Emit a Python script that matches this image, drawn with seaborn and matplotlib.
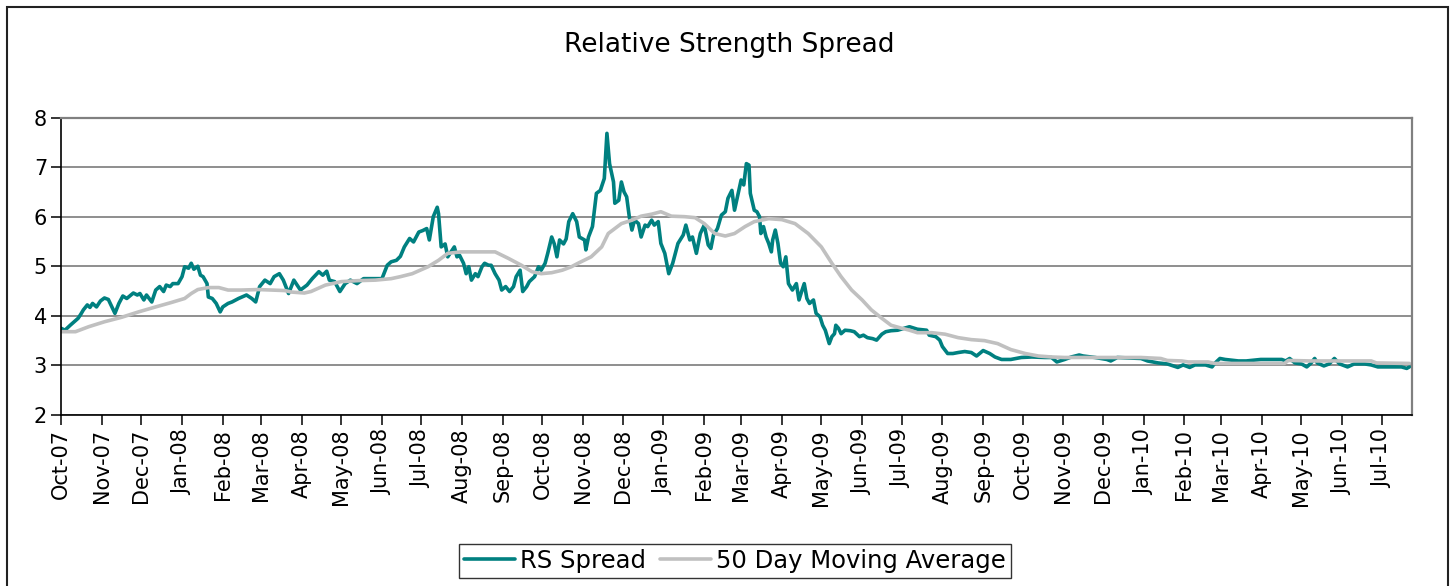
import pandas as pd
import matplotlib
matplotlib.use("Agg")
import matplotlib.pyplot as plt
import matplotlib.dates as mdates
from matplotlib.patches import Rectangle
import seaborn as sns

# 日付は 2007-10-01 からの経過日数で持つ
start = pd.Timestamp("2007-10-01")

rs_days = [0, 3, 7, 13, 15, 17, 20, 22, 24, 27, 30, 33, 36, 41, 44, 47, 50, 55, 58, 60,
           63, 65, 69, 72, 75, 78, 80, 83, 85, 89, 92, 94, 97, 99, 101, 104, 106, 108, 111, 112,
           115, 118, 121, 123, 127,
           130, 135, 141, 145, 148, 151, 155, 159, 162, 166, 169, 173, 177, 182, 187, 191, 196, 199, 202, 204,
           208, 212, 216, 220, 225, 230, 236, 244, 248, 251, 255, 258,
           261, 265, 268, 272, 275, 278, 280, 283, 286, 287, 289, 292, 294, 299, 301, 303, 306, 308, 310, 312,
           315, 317, 320, 322, 325, 327, 330, 333, 335, 338, 341, 344, 346, 349, 351, 354, 356, 360, 363, 365,
           368, 370, 373, 375, 377, 379, 382,
           384, 386, 389, 392, 394, 398, 399, 401, 404, 407, 410, 413, 415, 417, 420, 421, 424, 426, 428, 430,
           432, 434, 436, 439, 441, 444, 446, 449, 451, 454, 456, 459, 462, 465, 469, 473, 475, 478, 480, 483,
           486, 489, 492, 494, 496, 499, 502, 505, 507, 510, 512, 515, 517, 519, 521, 523, 524, 527, 529, 531,
           532, 534, 536, 538, 540, 541, 543, 545, 547, 549, 551, 553, 556, 559, 561, 563, 565, 567, 569, 572,
           574, 577, 579, 581, 584, 586, 588, 589, 591, 593, 596, 600, 603, 607, 610, 613, 617, 620, 624, 627,
           631, 636, 641, 645, 651, 658, 660, 665, 668, 670,
           674, 678, 682, 687, 692, 696, 701, 706, 710, 715, 722, 730, 738, 748, 753, 757, 763, 768, 774, 777,
           786, 795, 798, 803, 821, 826, 834, 841, 849, 853, 858, 862, 870, 875, 877, 881, 885, 895, 901, 912,
           928, 931, 934, 938, 943, 947, 950, 953, 955, 960, 964, 968, 972, 978, 983, 991, 996, 1001, 1011, 1019,
           1023, 1025]
rs_vals = [3.75, 3.71, 3.81, 3.95, 4.03, 4.12, 4.22, 4.17, 4.25, 4.18, 4.30, 4.36, 4.33, 4.05, 4.25, 4.40, 4.35, 4.46, 4.42, 4.45,
           4.32, 4.42, 4.28, 4.52, 4.59, 4.49, 4.62, 4.59, 4.65, 4.65, 4.79, 4.99, 4.96, 5.06, 4.94, 5.00, 4.82, 4.79, 4.65, 4.38,
           4.35, 4.25, 4.08, 4.18, 4.25,
           4.28, 4.35, 4.42, 4.35, 4.28, 4.59, 4.72, 4.65, 4.79, 4.85, 4.72, 4.45, 4.72, 4.52, 4.62, 4.75, 4.89, 4.82, 4.90, 4.72,
           4.69, 4.49, 4.65, 4.72, 4.65, 4.75, 4.75, 4.75, 5.02, 5.09, 5.12, 5.20,
           5.39, 5.56, 5.49, 5.69, 5.72, 5.76, 5.53, 6.00, 6.19, 6.06, 5.39, 5.45, 5.19, 5.39, 5.19, 5.22, 5.06, 4.85, 4.99, 4.72,
           4.85, 4.79, 4.99, 5.06, 5.02, 5.02, 4.85, 4.72, 4.52, 4.59, 4.49, 4.59, 4.79, 4.92, 4.49, 4.59, 4.69, 4.79, 4.99, 4.92,
           5.06, 5.26, 5.59, 5.45, 5.19, 5.53, 5.45,
           5.55, 5.90, 6.06, 5.90, 5.59, 5.53, 5.33, 5.59, 5.80, 6.47, 6.53, 6.77, 7.68, 7.07, 6.70, 6.27, 6.33, 6.70, 6.50, 6.40,
           6.00, 5.73, 5.93, 5.86, 5.59, 5.83, 5.80, 5.93, 5.83, 5.90, 5.46, 5.26, 4.85, 5.06, 5.46, 5.63, 5.83, 5.53, 5.59, 5.26,
           5.66, 5.83, 5.43, 5.36, 5.63, 5.76, 6.03, 6.10, 6.37, 6.53, 6.13, 6.50, 6.74, 6.64, 7.07, 7.04, 6.47, 6.13, 6.10, 6.00,
           5.66, 5.80, 5.59, 5.46, 5.29, 5.53, 5.73, 5.46, 5.06, 4.99, 5.19, 4.65, 4.52, 4.65, 4.32, 4.49, 4.65, 4.35, 4.25, 4.32,
           4.05, 3.98, 3.81, 3.71, 3.44, 3.58, 3.64, 3.81, 3.75, 3.64, 3.71, 3.70, 3.68, 3.58, 3.61, 3.56, 3.54, 3.51, 3.63, 3.68,
           3.70, 3.71, 3.75, 3.78, 3.73, 3.71, 3.61, 3.58, 3.51, 3.38,
           3.24, 3.24, 3.26, 3.28, 3.26, 3.19, 3.30, 3.24, 3.17, 3.12, 3.12, 3.16, 3.17, 3.16, 3.16, 3.07, 3.12, 3.17, 3.21, 3.19,
           3.16, 3.12, 3.09, 3.16, 3.14, 3.09, 3.05, 3.03, 2.96, 3.01, 2.96, 3.01, 3.01, 2.97, 3.04, 3.14, 3.12, 3.09, 3.09, 3.12,
           3.12, 3.09, 3.14, 3.05, 3.03, 2.97, 3.04, 3.14, 3.05, 2.99, 3.03, 3.14, 3.03, 2.97, 3.03, 3.03, 3.01, 2.97, 2.97, 2.97,
           2.94, 2.97]

ma_days = [0, 11, 21, 33, 46, 59, 72, 84, 94, 99, 104, 112, 120, 127, 137, 150, 170, 175, 185, 190,
           201, 213, 226, 239, 251, 258, 267, 279, 287, 294, 304, 317, 330, 340, 350, 358, 365, 373, 381, 388,
           393, 403, 411, 416, 426, 434, 441, 449, 456, 464, 474, 482, 489, 497, 505, 512, 520, 527, 538, 548,
           558, 568, 578, 586, 593, 601, 609, 616, 624, 631, 639, 645, 651, 662, 672, 682, 692, 702, 712, 722,
           733, 743, 753, 763, 774, 796, 821, 836, 841, 852, 857, 872, 877, 903, 930, 933, 950, 976, 996, 1000,
           1025]
ma_vals = [3.68, 3.68, 3.78, 3.88, 3.97, 4.08, 4.18, 4.27, 4.35, 4.45, 4.53, 4.57, 4.57, 4.52, 4.52, 4.53, 4.51, 4.48, 4.46, 4.49,
           4.62, 4.69, 4.71, 4.72, 4.75, 4.79, 4.85, 4.99, 5.12, 5.26, 5.29, 5.29, 5.29, 5.16, 5.02, 4.89, 4.85, 4.87, 4.92, 4.99,
           5.06, 5.19, 5.39, 5.66, 5.86, 5.93, 6.01, 6.05, 6.10, 6.01, 6.00, 5.98, 5.86, 5.66, 5.61, 5.66, 5.80, 5.90, 5.96, 5.94,
           5.86, 5.66, 5.39, 5.06, 4.79, 4.52, 4.32, 4.12, 3.95, 3.81, 3.75, 3.71, 3.66, 3.66, 3.63, 3.56, 3.52, 3.50, 3.44, 3.32,
           3.24, 3.19, 3.17, 3.16, 3.16, 3.16, 3.16, 3.14, 3.10, 3.09, 3.07, 3.07, 3.04, 3.04, 3.04, 3.10, 3.09, 3.09, 3.09, 3.05,
           3.04]

series_names = ["RS Spread", "50 Day Moving Average"]
y_ticks = [2, 3, 4, 5, 6, 7, 8]

rs = pd.DataFrame({"date": start + pd.to_timedelta(rs_days, unit="D"), "value": rs_vals})
ma = pd.DataFrame({"date": start + pd.to_timedelta(ma_days, unit="D"), "value": ma_vals})

sns.set_theme(style="white")
plt.rcParams["font.family"] = ["DejaVu Sans"]
plt.rcParams["text.color"] = "black"

W, H = 1450, 586
fig = plt.figure(figsize=(W / 100, H / 100), dpi=100)
ax = fig.add_axes([61 / W, 1 - 415 / H, (1412 - 61) / W, (415 - 117.5) / H])

sns.lineplot(data=rs, x="date", y="value", color="#008080", linewidth=2.6,
             label=series_names[0], estimator=None, sort=False, ax=ax)
sns.lineplot(data=ma, x="date", y="value", color="#c0c0c0", linewidth=2.6,
             label=series_names[1], estimator=None, sort=False, ax=ax)

ax.set_ylim(2, 8)
ax.set_yticks(y_ticks)
ax.set_xlim(start, start + pd.Timedelta(days=1027))
ax.xaxis.set_major_locator(mdates.MonthLocator())
ax.xaxis.set_major_formatter(mdates.DateFormatter("%b-%y"))
plt.setp(ax.get_xticklabels(), rotation=90)
ax.tick_params(axis="both", direction="out", length=7, width=1.1, color="black",
               labelsize=15, pad=3, labelcolor="black")
ax.tick_params(axis="x", bottom=True)
ax.tick_params(axis="y", left=True)
ax.set_xlabel("")
ax.set_ylabel("")

# 横罫線
ax.grid(axis="y", color="#707070", linewidth=1.1)
ax.grid(axis="x", visible=False)
ax.set_axisbelow(True)

for side in ["left", "bottom"]:
    ax.spines[side].set_color("black")
    ax.spines[side].set_linewidth(1.2)
for side in ["top", "right"]:
    ax.spines[side].set_color("#808080")
    ax.spines[side].set_linewidth(1.6)

fig.text(729 / W, 1 - 45 / H, "Relative Strength Spread", ha="center", va="center",
         fontsize=19, color="black")

handles, labels = ax.get_legend_handles_labels()
ax.get_legend().remove()
leg = fig.legend(handles, labels, loc="center", bbox_to_anchor=(735 / W, 1 - 561 / H), ncol=2,
                 frameon=True, fancybox=False, shadow=False, fontsize=17.5, handlelength=2.1,
                 handletextpad=0.2, columnspacing=0.6, borderpad=0.2, borderaxespad=0)
leg.get_frame().set_edgecolor("black")
leg.get_frame().set_linewidth(1.0)
plt.setp(leg.get_texts(), color="black")

# グラフ全体の枠
fig.patches.append(Rectangle((7 / W, -0.05), (1447.5 - 7) / W, (H - 7.3) / H + 0.05,
                             transform=fig.transFigure, fill=False, edgecolor="#222222", linewidth=1.5))

fig.savefig("out.png", dpi=100)
